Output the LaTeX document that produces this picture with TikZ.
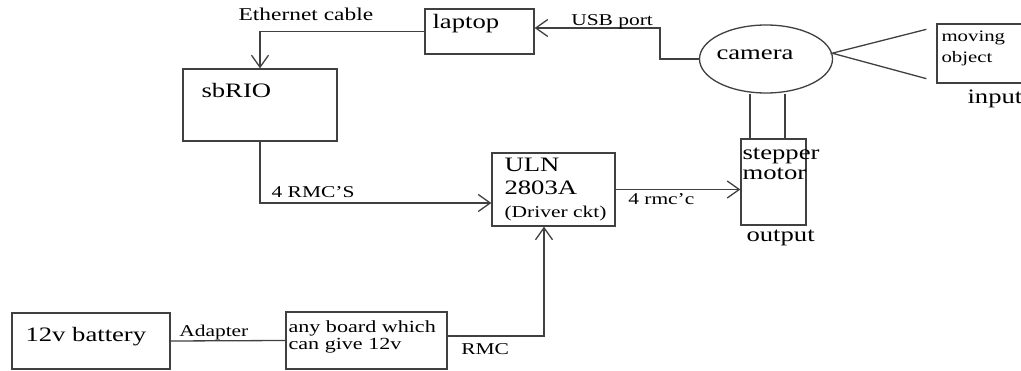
\documentclass[tikz,border=0pt]{standalone}
\usepackage{fontspec}
\setmainfont{Liberation Serif}
\usepackage{graphicx}
\usetikzlibrary{positioning,arrows.meta,shapes.geometric}

% the printed text is wider than plain Times, so stretch it a little
\newcommand{\sx}[1]{\scalebox{1.3}[1]{#1}}

\begin{document}
\begin{tikzpicture}[x=1pt, y=-1pt,
    box/.style={rectangle, draw=black!75, line width=1.3pt, inner sep=0pt},
    % multi-line texts sit on the baseline of their last line
    txt/.style={anchor=base west, inner sep=0pt, align=left, text=black},
    big/.style={txt, font=\fontsize{20.5}{23}\selectfont},
    small/.style={txt, font=\fontsize{16.5}{20}\selectfont},
    wire/.style={draw=black!75, line width=1.3pt},
    link/.style={wire, -{Straight Barb[length=12pt, width=17pt]}}
  ]
    \useasboundingbox (0,0) rectangle (1021,371);

    %--- Blocks
    \node[box, minimum width=109pt, minimum height=45pt] (lap) at (479.5,31.5) {};
    \node[box, minimum width=154pt, minimum height=72pt] (sb) at (260,105) {};
    \node[box, ellipse, minimum width=133pt, minimum height=68pt] (cam) at (766,59) {};
    \node[box, minimum width=86pt, minimum height=59pt] (obj) at (980,53.5) {};
    \node[box, minimum width=123pt, minimum height=73pt] (uln) at (553.5,189.5) {};
    \node[box, minimum width=65pt, minimum height=86pt] (step) at (773.5,182) {};
    \node[box, minimum width=158pt, minimum height=56pt] (bat) at (91,341) {};
    \node[box, minimum width=161pt, minimum height=57pt] (brd) at (366.5,340.5) {};

    %--- Texts inside / under the blocks
    \node[big] (lapT) at ([shift={(8pt,-20pt)}]lap.north west) {\sx{laptop}};
    \node[big] (sbT) at ([shift={(19pt,-29pt)}]sb.north west) {\sx{sbRIO}};
    \node[big, anchor=base] (camT) at ([shift={(-11pt,-1pt)}]cam.center) {\sx{camera}};
    \node[small, font=\fontsize{16}{21}\selectfont] (objT) at ([shift={(5pt,-39pt)}]obj.north west)
      {\sx{moving}\\\sx{object}};
    \node[big] (inT) at ([shift={(31pt,-20pt)}]obj.south west) {\sx{input}};
    \node[big] (ulnT) at ([shift={(13pt,-65pt)}]uln.north west)
      {\sx{ULN}\\\sx{2803A}\\\sx{\fontsize{16.5}{20}\selectfont (Driver ckt)}};
    \node[big, font=\fontsize{20.5}{20}\selectfont] (stepT) at ([shift={(2pt,-41pt)}]step.north west)
      {\sx{stepper}\\\sx{motor}};
    \node[big] (outT) at ([shift={(6pt,-16pt)}]step.south west) {\sx{output}};
    \node[big] (batT) at ([shift={(14pt,-29pt)}]bat.north west) {\sx{12v battery}};
    \node[small, font=\fontsize{17}{17}\selectfont] (brdT) at ([shift={(3pt,-38pt)}]brd.north west)
      {\sx{any board which}\\\sx{can give 12v}};

    %--- Connectors
    \draw[link] (lap.west) -| node[txt, font=\fontsize{18}{20}\selectfont, pos=0.5, xshift=-22pt, yshift=10.5pt] {\sx{Ethernet cable}} (sb.north);
    \draw[link] (cam.west) -- ++(-39,0) |- node[small, pos=1, xshift=36pt, yshift=2pt] {\sx{USB port}} ([yshift=3.5pt]lap.east);
    \draw[link] (sb.south) |- node[small, pos=0.5, xshift=11pt, yshift=5pt] {\sx{4 RMC'S}} ([yshift=-13.5pt]uln.west);
    \draw[link] (uln.east) -- node[small, pos=0, xshift=12pt, yshift=-15.5pt] {\sx{4 rmc'c}} (uln.east -| step.west);
    \draw[link] ([yshift=4.5pt]brd.east) -| node[small, pos=0, xshift=13pt, yshift=-19pt] {\sx{RMC}} ([xshift=-9.5pt]uln.south);
    \draw[wire] (bat.east) -- node[small, pos=0, xshift=8pt, yshift=4pt] {\sx{Adapter}} (brd.west);

    % camera looks at the object
    \coordinate (viewA) at ([shift={(-10pt,-6pt)}]obj.north west);
    \coordinate (viewB) at ([shift={(-10pt,5pt)}]obj.south west);
    \draw[wire] (viewA) -- (cam.5) -- (viewB);

    % shaft between camera and stepper motor
    \draw[wire] ([xshift=-16pt]cam.south) -- ([xshift=-16pt]cam.south |- step.north);
    \draw[wire] ([xshift=19pt]cam.south) -- ([xshift=19pt]cam.south |- step.north);
  \end{tikzpicture}
\end{document}
